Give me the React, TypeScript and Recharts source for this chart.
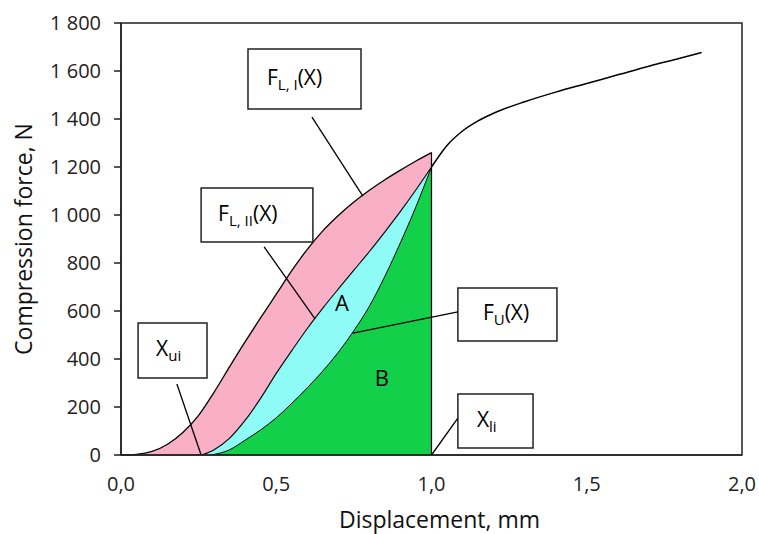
import {
  Area,
  ComposedChart,
  Line,
  ReferenceArea,
  ReferenceDot,
  ReferenceLine,
  XAxis,
  YAxis,
} from 'recharts'

// loading curve, first cycle  F_L,I(x)
const loadIX = [0, 0.05, 0.1, 0.15, 0.2, 0.25, 0.3, 0.35, 0.4, 0.45, 0.5, 0.55, 0.6, 0.65, 0.7, 0.75, 0.8, 0.85, 0.9, 0.95, 1.0]
const loadIF = [0, 3, 15, 45, 95, 165, 262, 368, 472, 572, 670, 768, 857, 934, 998, 1054, 1103, 1147, 1187, 1225, 1260]

// loading curve, second cycle  F_L,II(x)
const loadIIX = [0.26, 0.3, 0.35, 0.4, 0.45, 0.5, 0.55, 0.6, 0.65, 0.7, 0.75, 0.8, 0.85, 0.9, 0.95, 1.0]
const loadIIF = [0, 22, 70, 145, 237, 340, 435, 527, 612, 692, 770, 848, 930, 1015, 1105, 1200]

// unloading curve  F_U(x)
const unloadX = [0.29, 0.35, 0.4, 0.45, 0.5, 0.55, 0.6, 0.65, 0.7, 0.75, 0.8, 0.85, 0.9, 0.95, 1.0]
const unloadF = [0, 22, 62, 105, 155, 215, 280, 350, 428, 518, 620, 745, 885, 1035, 1200]

// continued loading past x_li
const tailX = [1.0, 1.05, 1.1, 1.15, 1.2, 1.3, 1.4, 1.5, 1.6, 1.7, 1.8, 1.87]
const tailF = [1200, 1290, 1350, 1392, 1424, 1472, 1512, 1548, 1584, 1620, 1653, 1677]

const xTicks = [0, 0.5, 1, 1.5, 2]
const yTicks = [0, 200, 400, 600, 800, 1000, 1200, 1400, 1600, 1800]

const FONT = '"Open Sans", "DejaVu Sans", sans-serif'

type Row = { x: number; fL1?: number; fL2?: number; fU?: number; tail?: number }

function buildRows(): Row[] {
  const map = new Map<number, Row>()
  const put = (xs: number[], ys: number[], key: keyof Row) => {
    xs.forEach((x, i) => {
      const r = map.get(x) ?? { x }
      ;(r as any)[key] = ys[i]
      map.set(x, r)
    })
  }
  put(loadIX, loadIF, 'fL1')
  put(loadIIX, loadIIF, 'fL2')
  put(unloadX, unloadF, 'fU')
  put(tailX, tailF, 'tail')
  return [...map.values()].sort((a, b) => a.x - b.x)
}

const rows = buildRows()

type Part = { t: string; sub?: boolean }

// callout boxes: [x1, x2, y1, y2] in data units, leader from box to curve
const callouts: { parts: Part[]; box: number[]; leader: number[][]; pad: number }[] = [
  { parts: [{ t: 'F' }, { t: 'L, I', sub: true }, { t: '(X)' }], box: [0.409, 0.773, 1442, 1692], leader: [[0.615, 1408], [0.779, 1079]], pad: 19 },
  { parts: [{ t: 'F' }, { t: 'L, II', sub: true }, { t: '(X)' }], box: [0.258, 0.618, 888, 1113], leader: [[0.461, 867], [0.625, 567]], pad: 17 },
  { parts: [{ t: 'X' }, { t: 'ui', sub: true }], box: [0.055, 0.277, 321, 550], leader: [[0.18, 296], [0.258, 0]], pad: 18 },
  { parts: [{ t: 'F' }, { t: 'U', sub: true }, { t: '(X)' }], box: [1.085, 1.404, 475, 696], leader: [[1.085, 596], [0.747, 508]], pad: 25 },
  { parts: [{ t: 'X' }, { t: 'li', sub: true }], box: [1.085, 1.327, 29, 254], leader: [[1.085, 154], [1.0, 0]], pad: 19 },
]

function calloutLabel(parts: Part[], pad: number) {
  return (props: any) => {
    const { x, y, height } = props.viewBox
    let shifted = false
    return (
      <text x={x + pad} y={y + height / 2 + 6} fontSize={21} fontFamily={FONT} fill='#000'>
        {parts.map((p, i) => {
          let dy = 0
          if (p.sub && !shifted) { dy = 5; shifted = true }
          else if (!p.sub && shifted) { dy = -5; shifted = false }
          return (
            <tspan key={i} dy={dy} fontSize={p.sub ? 15 : 21}>
              {p.t}
            </tspan>
          )
        })}
      </text>
    )
  }
}

const fmtX = (v: number) => v.toFixed(1).replace('.', ',')
const fmtY = (v: number) =>
  v >= 1000 ? `${Math.floor(v / 1000)} ${String(v % 1000).padStart(3, '0')}` : String(v)

export default function App() {
  return (
    <div style={{ position: 'absolute', left: 0, top: 0, background: '#fff' }}>
      <ComposedChart
        width={759}
        height={534}
        data={rows}
        margin={{ top: 23, right: 17, bottom: 0, left: 0 }}
      >
        <XAxis
          type='number'
          dataKey='x'
          domain={[0, 2]}
          ticks={xTicks}
          tickFormatter={fmtX}
          tickLine={false}
          tickSize={0}
          tickMargin={22}
          height={79}
          axisLine={{ stroke: '#222', strokeWidth: 1.5 }}
          tick={{ fill: '#222', fontSize: 20, fontFamily: FONT }}
          label={{ value: 'Displacement, mm', position: 'insideBottom', offset: 6, dx: 8, fill: '#111', fontSize: 23, fontFamily: FONT }}
        />
        <YAxis
          type='number'
          domain={[0, 1800]}
          ticks={yTicks}
          tickFormatter={fmtY}
          width={121}
          tickSize={7}
          tickMargin={13}
          axisLine={{ stroke: '#222', strokeWidth: 1.5 }}
          tickLine={{ stroke: '#222', strokeWidth: 1.5 }}
          tick={{ fill: '#222', fontSize: 20, fontFamily: FONT }}
          label={{ value: 'Compression force, N', angle: -90, position: 'insideLeft', offset: 24, fill: '#111', fontSize: 23, fontFamily: FONT, style: { textAnchor: 'middle' } }}
        />
        <Area dataKey='fL1' type='monotone' connectNulls fill='#F9B0C7' fillOpacity={1} stroke='#000' strokeWidth={1.3} isAnimationActive={false} dot={false} activeDot={false} />
        <Area dataKey='fL2' type='monotone' connectNulls fill='#8EFBF7' fillOpacity={1} stroke='#000' strokeWidth={1.1} isAnimationActive={false} dot={false} activeDot={false} />
        <Area dataKey='fU' type='monotone' connectNulls fill='#12D04A' fillOpacity={1} stroke='#000' strokeWidth={1} isAnimationActive={false} dot={false} activeDot={false} />
        <Line dataKey='tail' type='monotone' connectNulls stroke='#000' strokeWidth={1.5} isAnimationActive={false} dot={false} activeDot={false} />
        <ReferenceLine
          segment={[{ x: loadIX[loadIX.length - 1], y: 0 }, { x: loadIX[loadIX.length - 1], y: loadIF[loadIF.length - 1] }]}
          stroke='#000'
          strokeWidth={1.2}
        />
        <ReferenceArea x1={0} x2={2} y1={0} y2={1800} fill='none' stroke='#222' strokeWidth={1.5} />
        {callouts.map((c, i) => (
          <ReferenceLine
            key={`l${i}`}
            segment={[{ x: c.leader[0][0], y: c.leader[0][1] }, { x: c.leader[1][0], y: c.leader[1][1] }]}
            stroke='#000'
            strokeWidth={1.3}
          />
        ))}
        {callouts.map((c, i) => (
          <ReferenceArea
            key={`b${i}`}
            x1={c.box[0]}
            x2={c.box[1]}
            y1={c.box[2]}
            y2={c.box[3]}
            fill='#fff'
            fillOpacity={1}
            stroke='#222'
            strokeWidth={1.5}
            label={calloutLabel(c.parts, c.pad)}
          />
        ))}
        <ReferenceDot x={0.712} y={633} r={0} fill='none' stroke='none' label={{ value: 'A', position: 'center', fontSize: 22, fontFamily: FONT, fill: '#000' }} />
        <ReferenceDot x={0.84} y={321} r={0} fill='none' stroke='none' label={{ value: 'B', position: 'center', fontSize: 22, fontFamily: FONT, fill: '#000' }} />
      </ComposedChart>
    </div>
  )
}
